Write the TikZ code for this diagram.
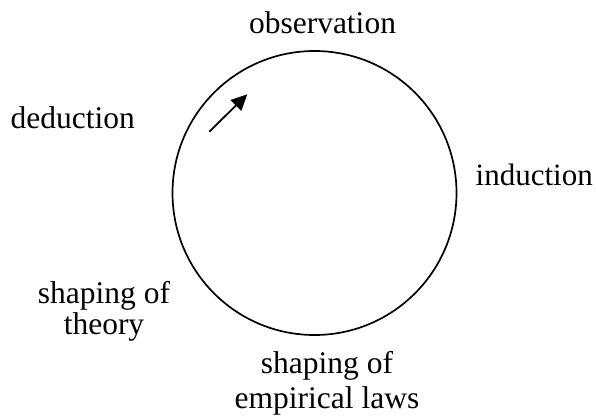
\documentclass[tikz,border=0pt]{standalone}
\usepackage{fontspec}
\setmainfont{Liberation Serif}
\usetikzlibrary{arrows.meta}
\begin{document}
\begin{tikzpicture}[x=1pt,y=-1pt,
  lbl/.style={inner sep=0pt, font=\fontsize{31.5}{31}\selectfont, align=center},
  ring/.style={draw, circle, line width=1.7pt, minimum size=284pt, inner sep=0pt}]
\useasboundingbox (0,0) rectangle (596,418);
\node[ring] (cycle) at (314.5,193) {};
\node[lbl, anchor=base] (obs) at (322.5,33) {observation};
\node[lbl, anchor=base west] (ded) at (10.5,128) {deduction};
\node[lbl, anchor=base west, font=\fontsize{31}{31}\selectfont] (ind) at (475.5,185) {induction};
\node[lbl, anchor=base, font=\fontsize{31.5}{31}\selectfont] (theory) at (104,334) {shaping of\\theory};
\node[lbl, anchor=base, font=\fontsize{31.5}{35}\selectfont] (laws) at (327,408) {shaping of\\empirical laws};
\coordinate (atail) at (209.3,131.7);
\coordinate (ahead) at (247.3,94.3);
\draw[line width=1.8pt, -{Triangle[length=16pt,width=15pt]}] (atail) -- (ahead);
\end{tikzpicture}
\end{document}
